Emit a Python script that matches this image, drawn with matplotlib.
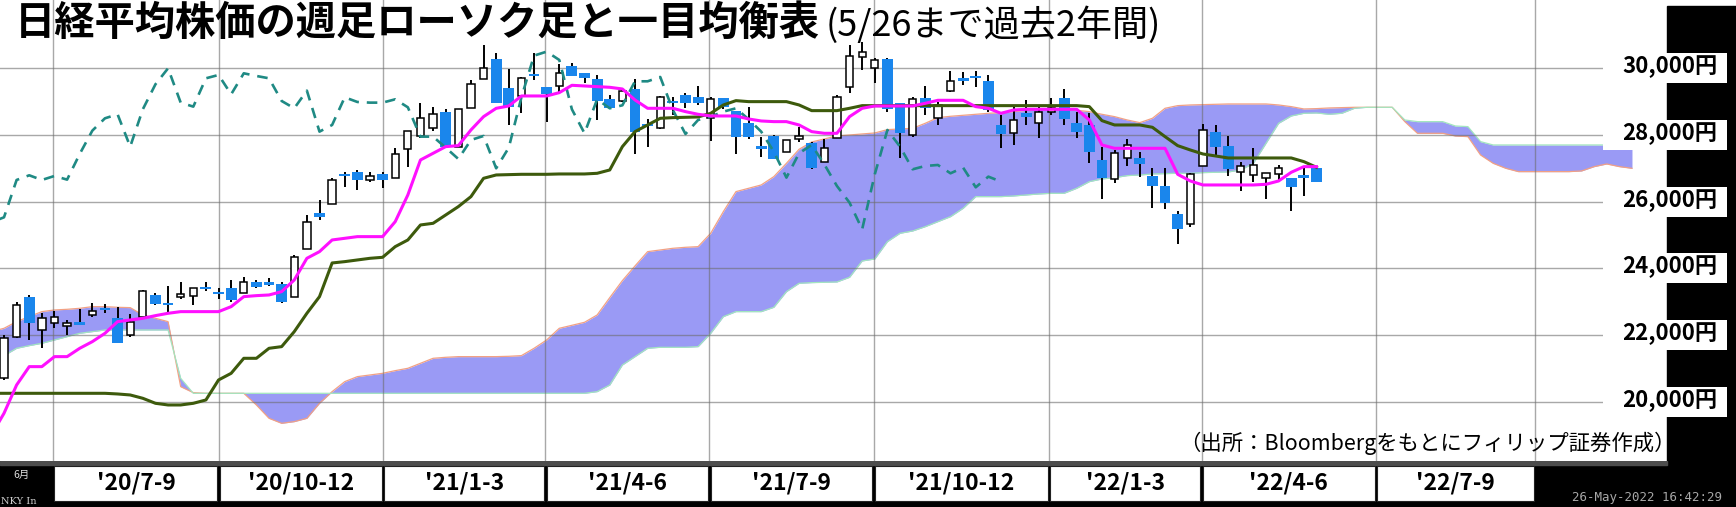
import numpy as np
import matplotlib
matplotlib.use("Agg")
import matplotlib.pyplot as plt
from matplotlib.patches import Rectangle

plt.rcParams['font.family'] = ['Noto Sans CJK JP', 'DejaVu Sans']

# ---------------- data (weekly, index 0 = first visible week) ----------------
opens = [20700, 21930, 23150, 22150, 22370, 22270, 22360, 22600, 22780, 22500,
         22000, 22530, 23200, 22940, 23150, 23170, 23450, 23260, 23400, 23270,
         23600, 23550, 23530, 23130, 24570, 25650, 25920, 26800, 26900, 26650,
         26830, 26700, 27580, 27970, 28220, 28680, 27650, 28820, 29670, 30270,
         29420, 29180, 29810, 29430, 29470, 30070, 29870, 29670, 29070, 29020,
         29370, 28310, 28200, 29000, 29200, 29130, 28500, 29100, 28720, 28370,
         27630, 27970, 27500, 27870, 27770, 27200, 27900, 29450, 30330, 30020,
         30270, 28950, 28000, 29100, 28500, 29330, 29720, 29750, 29620, 28300,
         28050, 28670, 28350, 28700, 29100, 28370, 28300, 27250, 26680, 27320,
         27300, 26780, 26470, 25630, 25330, 27070, 28100, 27670, 26880, 26800,
         26700, 26830, 26700, 26760, 27000]
highs = [22000, 23000, 23200, 22650, 22730, 22450, 22770, 22970, 22930, 22830,
         22630, 23350, 23270, 23470, 23600, 23400, 23600, 23400, 23650, 23750,
         23650, 23700, 23600, 24400, 25600, 26050, 26700, 26900, 26950, 26900,
         26900, 27600, 28130, 28970, 28850, 28780, 28770, 29650, 30700, 30450,
         29970, 29750, 30450, 29430, 30130, 30170, 29870, 29800, 29200, 29370,
         29670, 28470, 29170, 29150, 29250, 29470, 29150, 29100, 28720, 28830,
         27950, 28000, 27850, 28250, 27800, 27870, 29200, 30700, 30800, 30300,
         30300, 28950, 29150, 29470, 29000, 29920, 29900, 29920, 29800, 28600,
         28850, 29050, 28850, 29100, 29370, 28700, 28650, 27650, 27550, 27870,
         27500, 27000, 27020, 25730, 26850, 28330, 28300, 27970, 27200, 27600,
         26850, 27100, 26720, 27030, 27000]
lows = [20650, 21900, 21850, 21600, 22220, 22000, 22330, 22550, 22650, 21750,
        21950, 22530, 22900, 22650, 23070, 22900, 23330, 23070, 23000, 23270,
        23400, 23470, 22970, 23130, 24570, 25450, 25920, 26430, 26350, 26600,
        26400, 26700, 27030, 27900, 28130, 27630, 27630, 28820, 29670, 28970,
        28300, 28650, 29650, 28400, 29300, 29770, 29550, 28450, 28770, 29000,
        27430, 27650, 28170, 28600, 28800, 28900, 27830, 28770, 27430, 27870,
        27350, 27280, 27500, 27800, 26970, 27200, 27900, 29250, 29950, 29570,
        28700, 27300, 27950, 28600, 28300, 29300, 29500, 29450, 28700, 27600,
        27700, 28300, 27900, 28600, 28300, 27900, 27150, 26070, 26550, 27070,
        26750, 25800, 25780, 24720, 25230, 27070, 27400, 26770, 26320, 26600,
        26070, 26600, 25720, 26170, 26600]
closes = [21900, 22900, 22350, 22500, 22530, 22350, 22340, 22730, 22770, 21750,
          22400, 23320, 22930, 22930, 23230, 23400, 23380, 23250, 23050, 23600,
          23430, 23540, 23000, 24350, 25380, 25530, 26650, 26790, 26650, 26770,
          26660, 27430, 28130, 28500, 28620, 27650, 28770, 29520, 30000, 28970,
          28850, 29700, 29800, 29220, 29850, 29770, 29700, 29020, 28800, 29330,
          28100, 28300, 29130, 28990, 28970, 28970, 29070, 28830, 27950, 27950,
          27620, 27280, 27850, 27970, 27000, 27620, 29130, 30380, 30500, 30250,
          28770, 28050, 29070, 28800, 28890, 29610, 29610, 29740, 28750, 28030,
          28450, 28550, 28700, 28800, 28470, 28100, 27500, 26720, 27450, 27700,
          27120, 26470, 25970, 25170, 26820, 28150, 27650, 26970, 27070, 27100,
          26850, 27020, 26430, 26750, 26600]

# conversion line / base line, weeks -1 .. 104
tenkan = [19000, 19650, 20500, 21050, 21050, 21350, 21350, 21600, 21800, 22050, 22400,
          22450, 22500, 22580, 22650, 22700, 22700, 22700, 22700, 22850, 23150,
          23180, 23200, 23300, 23650, 24300, 24500, 24850, 24900, 24950, 24950,
          24950, 25400, 26200, 27250, 27450, 27650, 27680, 28150, 28550, 28800,
          28870, 29170, 29170, 29170, 29270, 29490, 29470, 29450, 29430, 29380,
          29050, 28800, 28800, 28800, 28700, 28620, 28570, 28570, 28570, 28480,
          28420, 28400, 28400, 28300, 28100, 28050, 28050, 28550, 28800, 28870,
          28870, 28870, 28870, 28950, 29040, 29040, 29040, 28850, 28800, 28650,
          28750, 28770, 28770, 28770, 28770, 28770, 28450, 27700, 27600, 27600,
          27600, 27600, 27600, 26820, 26620, 26500, 26500, 26500, 26500, 26500,
          26520, 26620, 26880, 27050, 27050]
kijun = [20250, 20250, 20250, 20250, 20250, 20250, 20250, 20250, 20250, 20250, 20230,
         20200, 20100, 19950, 19900, 19900, 19950, 20050, 20650, 20850, 21300,
         21300, 21600, 21650, 22100, 22650, 23150, 24160, 24200, 24250, 24300,
         24330, 24650, 24850, 25300, 25350, 25600, 25850, 26150, 26700, 26800,
         26810, 26820, 26820, 26820, 26830, 26830, 26830, 26850, 26950, 27650,
         28100, 28300, 28500, 28520, 28530, 28540, 28650, 28900, 29030, 29000,
         29000, 29000, 29000, 28900, 28730, 28730, 28730, 28800, 28880, 28880,
         28880, 28880, 28880, 28880, 28880, 28880, 28880, 28880, 28880, 28880,
         28880, 28880, 28880, 28880, 28880, 28880, 28850, 28430, 28300, 28300,
         28300, 28230, 27950, 27680, 27550, 27430, 27370, 27310, 27310, 27310,
         27310, 27310, 27310, 27200, 27030]
# leading spans (cloud), weeks -1 .. 129
span_a = [22100, 22200, 22400, 22550, 22700, 22750, 22770, 22800, 22850, 22850, 22830,
          22820, 22600, 22500, 22400, 20450, 20270, 20250, 20250, 20250, 20250,
          19900, 19500, 19350, 19400, 19500, 19950, 20300, 20600, 20750, 20800,
          20850, 20930, 21000, 21150, 21300, 21330, 21350, 21350, 21350, 21350,
          21360, 21380, 21600, 21850, 22200, 22290, 22380, 22600, 23120, 23630,
          24070, 24500, 24550, 24600, 24630, 24650, 25050, 25700, 26300, 26400,
          26500, 26750, 27150, 27570, 27790, 27880, 27970, 28000, 28030, 28060,
          28160, 28180, 28200, 28350, 28520, 28560, 28590, 28620, 28650, 28670,
          28700, 28740, 28780, 28800, 28780, 28740, 28700, 28620, 28550, 28450,
          28370, 28500, 28800, 28880, 28900, 28910, 28920, 28930, 28930, 28930,
          28930, 28900, 28850, 28780, 28790, 28810, 28820, 28830, 28830, 28830,
          28830, 28400, 28050, 28050, 28050, 27970, 27950, 27400, 27150, 27000,
          26900, 26900, 26900, 26900, 26900, 26920, 27050, 27130, 27050, 27000]
span_b = [21300, 21380, 21600, 21680, 21750, 21850, 21950, 22050, 22100, 22150, 22150,
          22150, 22150, 22150, 22150, 20700, 20250, 20250, 20250, 20250, 20250,
          20250, 20250, 20250, 20250, 20250, 20250, 20250, 20250, 20250, 20250,
          20250, 20250, 20250, 20250, 20250, 20250, 20250, 20250, 20250, 20250,
          20250, 20250, 20250, 20250, 20250, 20250, 20250, 20300, 20500, 21100,
          21350, 21600, 21630, 21630, 21630, 21650, 22050, 22550, 22700, 22700,
          22700, 22830, 23300, 23550, 23570, 23580, 23590, 23730, 24220, 24280,
          24800, 25050, 25120, 25250, 25400, 25550, 25800, 26150, 26150, 26150,
          26170, 26200, 26230, 26250, 26250, 26400, 26600, 26680, 26720, 26780,
          26800, 26830, 26840, 26850, 26850, 26870, 26880, 26890, 26950, 27150,
          27750, 28350, 28570, 28650, 28660, 28620, 28650, 28800, 28830, 28830,
          28830, 28450, 28400, 28400, 28400, 28270, 28250, 27800, 27700, 27700,
          27700, 27700, 27700, 27700, 27700, 27700, 27700, 27700, 27700, 27700]
CHIKOU_LAG = 25

quarter_labels = ["'20/7-9", "'20/10-12", "'21/1-3", "'21/4-6", "'21/7-9",
                  "'21/10-12", "'22/1-3", "'22/4-6", "'22/7-9"]
quarter_edges = [3.9, 17.0, 30.03, 42.9, 55.9, 68.9, 82.8, 94.9, 108.7, 121.3]
price_ticks = [20000, 22000, 24000, 26000, 28000, 30000]
price_labels = ['20,000円', '22,000円', '24,000円', '26,000円', '28,000円', '30,000円']

title = '日経平均株価の週足ローソク足と一目均衡表'
subtitle = '(5/26まで過去2年間)'
source = '（出所：Bloombergをもとにフィリップ証券作成）'

# ---------------- layout ----------------
W, H = 1736, 507
BAR_H = 46
fig = plt.figure(figsize=(W / 100, H / 100), dpi=100)
ax = fig.add_axes([0, BAR_H / H, 1, (H - BAR_H) / H])
bar = fig.add_axes([0, 0, 1, BAR_H / H], sharex=ax)

PX_WEEK = 12.62
X0 = 4.0
ax.set_xlim(-X0 / PX_WEEK, (W - X0) / PX_WEEK)
ax.set_ylim(30000 - (H - BAR_H - 68.3) * 30, 30000 + 68.3 * 30)
for a in (ax, bar):
    a.set_axis_off()
bar.set_ylim(0, 1)
bar.add_patch(Rectangle((0, 0), 1, 1, transform=bar.transAxes, color='black', zorder=0))

grid_kw = dict(color='#6e6e6e', alpha=0.6, lw=1.0, zorder=2)
for v in price_ticks:
    ax.axhline(v, xmin=0, xmax=1605 / W, **grid_kw)
for e in quarter_edges:
    ax.axvline(e, **grid_kw)

# cloud
s_idx = np.arange(-1, -1 + len(span_a))
ax.fill_between(s_idx, span_a, span_b, color='#9a9af5', lw=0, zorder=1)
ax.plot(s_idx, span_a, color='#f2a184', lw=0.9, zorder=1.5)
ax.plot(s_idx, span_b, color='#a3e6bf', lw=0.9, zorder=1.5)

# candles
o = np.array(opens, float); c = np.array(closes, float)
h = np.array(highs, float); l = np.array(lows, float)
idx = np.arange(len(c))
MIN_BODY = 75
up = c > o
mid = (o + c) / 2
bh = np.maximum(np.abs(c - o), MIN_BODY)
bb = np.where(np.abs(c - o) < MIN_BODY, mid - MIN_BODY / 2, np.minimum(o, c))
ax.vlines(idx, l, h, color='black', lw=1.4, zorder=3)
ax.bar(idx[up], bh[up], bottom=bb[up], width=0.58, facecolor='white',
       edgecolor='black', lw=1.1, zorder=4)
ax.bar(idx[~up], bh[~up], bottom=bb[~up], width=0.86, color='#1a86ec', lw=0, zorder=4)

# lines
l_idx = np.arange(-1, -1 + len(tenkan))
ax.plot(idx - CHIKOU_LAG, c, color='#1f8a84', lw=1.9, ls=(0, (4, 3)), zorder=5)
ax.plot(l_idx, kijun, color='#3d5a0c', lw=2.2, zorder=5)
ax.plot(l_idx, tenkan, color='#ff10ff', lw=2.2, zorder=5)

# right price strip
ax.add_patch(Rectangle((1667 / W, 0), (W - 1667) / W, (H - BAR_H - 6) / (H - BAR_H),
                       transform=ax.transAxes, color='black', zorder=6, clip_on=False))
ytr = ax.get_yaxis_transform()
for v, s in zip(price_ticks, price_labels):
    ax.add_patch(Rectangle((1603 / W, v - 450), (1727 - 1603) / W, 900,
                           transform=ytr, color='white', zorder=7, lw=0))
    ax.text(1670 / W, v + 40, s, transform=ytr, ha='center', va='center',
            fontsize=16, fontweight='bold', color='black', zorder=8)

# bottom quarter bar
xtr = bar.get_xaxis_transform()
bar.add_patch(Rectangle((0, (BAR_H - 4) / BAR_H), 1667 / W, 4 / BAR_H,
                        transform=bar.transAxes, color='#4d4d4d', zorder=1))
y0b = (H - 501) / BAR_H
y1b = (H - 466) / BAR_H
for k, lab in enumerate(quarter_labels):
    a0 = quarter_edges[k] + 0.1
    a1 = quarter_edges[k + 1] - 0.1
    bar.add_patch(Rectangle((a0, y0b), a1 - a0, y1b - y0b, transform=xtr,
                            facecolor='white', edgecolor='#222222', lw=0.8, zorder=2))
    bar.text((a0 + a1) / 2, (y0b + y1b) / 2, lab, transform=xtr, ha='center',
             va='center', fontsize=16.5, fontweight='bold', color='black', zorder=3)

fig.text(22 / W, 1 - 475 / H, '6月', fontsize=7.5, color='#dddddd', ha='center', va='center')
fig.text(1 / W, 1 - 502 / H, 'NKY In', fontsize=7, color='#cccccc', ha='left', va='center',
         family='DejaVu Serif')
fig.text(1647 / W, 1 - 497 / H, '26-May-2022 16:42:29', fontsize=9, color='#a8a8a8',
         ha='center', va='center', family='DejaVu Sans Mono')

# titles and source
fig.text(15 / W, 1 - 35 / H, title, fontsize=29, fontweight='bold', ha='left',
         va='baseline', color='black')
fig.text(826 / W, 1 - 36 / H, subtitle, fontsize=26, ha='left', va='baseline', color='black')
fig.text(1676 / W, 1 - 443 / H, source, fontsize=15.4, ha='right', va='center', color='black')

fig.savefig('out.png', dpi=100, facecolor='white')
